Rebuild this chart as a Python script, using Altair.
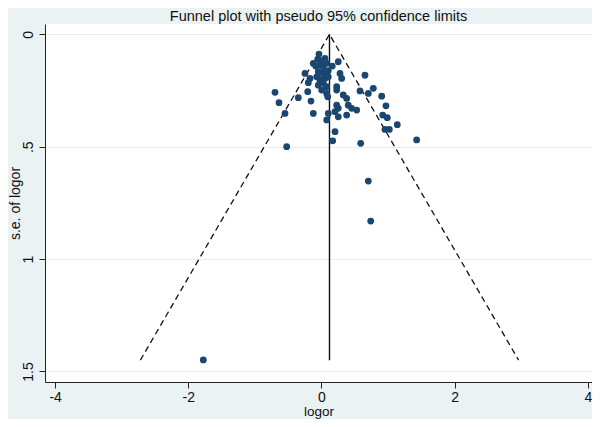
import altair as alt
import pandas as pd

# study estimates (log odds ratio) and their standard errors
logor = [-0.038, -0.057, 0.003, 0.053, 0.252, -0.123, -0.087, -0.023, 0.027, 0.078,
         0.162, -0.248, -0.048, 0.003, 0.053, 0.102, 0.278, 0.303, -0.173, -0.072,
         -0.023, 0.053, 0.102, -0.198, -0.048, 0.027, 0.078, 0.228, 0.653, 0.003,
         0.078, 0.093, 0.228, 0.327, 0.378, 0.578, 0.703, 0.778, 0.904, 0.968,
         -0.207, -0.348, -0.158, -0.698, -0.638, -0.548, -0.123, 0.102, 0.078, 0.228,
         0.252, 0.203, 0.252, 0.402, 0.453, 0.529, 0.378, 0.919, 0.988, 1.138,
         0.953, 1.018, 0.203, 0.168, 1.429, 0.589, -0.523, 0.703, 0.739, -1.775]
se_logor = [0.088, 0.111, 0.117, 0.107, 0.122, 0.129, 0.141, 0.137, 0.144, 0.129,
            0.141, 0.174, 0.166, 0.174, 0.166, 0.162, 0.174, 0.196, 0.196, 0.189,
            0.203, 0.196, 0.189, 0.215, 0.226, 0.218, 0.233, 0.233, 0.182, 0.248,
            0.263, 0.278, 0.248, 0.270, 0.285, 0.252, 0.263, 0.240, 0.275, 0.318,
            0.255, 0.282, 0.297, 0.258, 0.304, 0.352, 0.352, 0.352, 0.381, 0.315,
            0.329, 0.344, 0.367, 0.315, 0.329, 0.337, 0.359, 0.359, 0.371, 0.402,
            0.423, 0.423, 0.433, 0.474, 0.470, 0.485, 0.500, 0.653, 0.831, 1.449]

# pseudo 95% confidence limits and pooled estimate
funnel_x = [-2.72, 0.12, 2.96]
funnel_y = [1.45, 0.0, 1.45]
pooled_x = [0.12]
pooled_y0 = [0.0]
pooled_y1 = [1.45]

x_ticks = [-4, -2, 0, 2, 4]
y_ticks = [0, 0.5, 1, 1.5]

pts = pd.DataFrame({"logor": logor, "se": se_logor})
fun = pd.DataFrame({"x": funnel_x, "y": funnel_y, "o": list(range(len(funnel_x)))})
pool = pd.DataFrame({"x": pooled_x, "y": pooled_y0, "y2": pooled_y1})

xs = alt.Scale(domain=[-4.152, 4.062], nice=False, zero=False)
ys = alt.Scale(domain=[-0.046, 1.547], nice=False, zero=False, reverse=True)

xaxis = alt.Axis(title="logor", values=x_ticks, labelExpr="'' + datum.value",
                 grid=False, tickSize=6, labelPadding=2,
                 titleBaseline="alphabetic", titleY=33.5, titleFontSize=13.5)
yaxis = alt.Axis(title="s.e. of logor", values=y_ticks,
                 labelExpr="datum.value == 0.5 ? '.5' : '' + datum.value",
                 grid=True, gridColor="#e6eef0", labelAngle=270,
                 labelAlign="center", labelBaseline="alphabetic",
                 tickSize=6, labelPadding=7,
                 titleAngle=270, titleAlign="center", titleBaseline="alphabetic",
                 titleX=-26, titleY=179)

points = alt.Chart(pts).mark_circle(size=46, color="#1a476f", opacity=1).encode(
    x=alt.X("logor:Q", scale=xs, axis=xaxis),
    y=alt.Y("se:Q", scale=ys, axis=yaxis),
)

funnel = alt.Chart(fun).mark_line(color="#111111", strokeWidth=1.3, strokeDash=[6, 4]).encode(
    x=alt.X("x:Q", scale=xs), y=alt.Y("y:Q", scale=ys), order="o:Q"
)

pooled = alt.Chart(pool).mark_rule(color="#111111", strokeWidth=1.4).encode(
    x=alt.X("x:Q", scale=xs), y=alt.Y("y:Q", scale=ys), y2="y2:Q"
)

chart = alt.layer(funnel, pooled, points).properties(
    width=547, height=358,
    title=alt.TitleParams("Funnel plot with pseudo 95% confidence limits",
                          fontSize=14.5, font="Liberation Sans", fontWeight="normal",
                          color="#111111", offset=0, anchor="middle"),
    autosize="none",
    padding={"left": 37, "top": 16, "right": 0, "bottom": 37},
    background="#eaf2f3",
).configure_view(fill="white", stroke=None).configure_axis(
    labelFont="Liberation Sans", titleFont="Liberation Sans",
    labelFontSize=14, titleFontSize=14, titleFontWeight="normal",
    labelColor="#111111", titleColor="#111111",
    domainColor="#222222", tickColor="#222222", domainWidth=1, tickWidth=1,
)

chart.save("out.html", embed_options={"renderer": "svg", "actions": False})
